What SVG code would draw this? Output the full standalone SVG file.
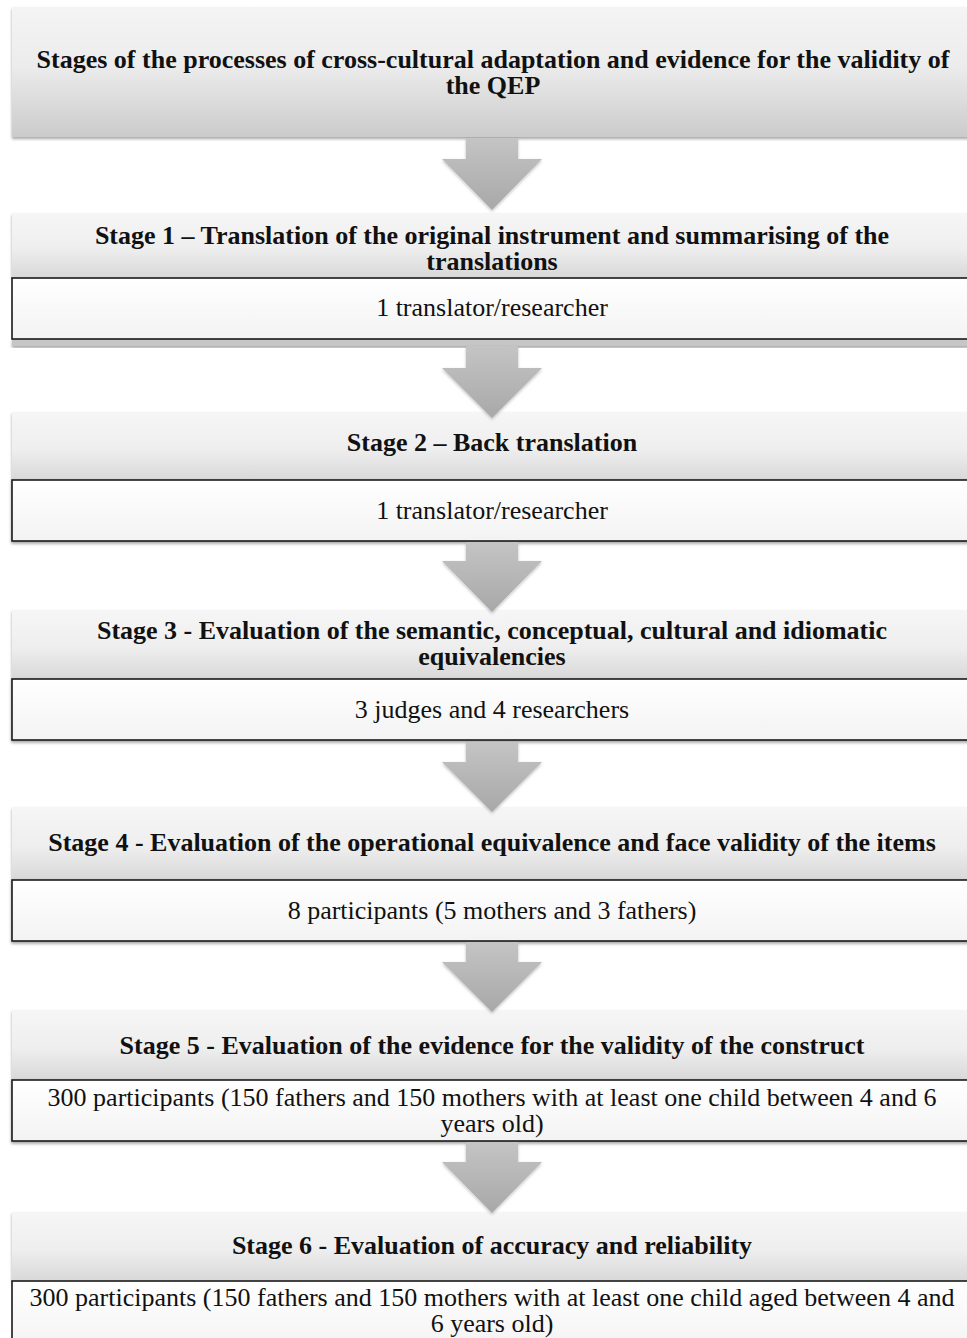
<svg xmlns="http://www.w3.org/2000/svg" width="967" height="1338" viewBox="0 0 967 1338">
<style>
.h{font-family:"Liberation Serif","Times New Roman",serif;font-weight:bold;font-size:26px;fill:#111;text-anchor:middle}
.b{font-family:"Liberation Serif","Times New Roman",serif;font-size:26px;fill:#111;text-anchor:middle}
.hdr{fill:url(#gh)}
.body{fill:url(#gb);stroke:#1a1a1a;stroke-width:1.6}
.arr{fill:url(#ga);filter:url(#sa)}
</style>
<defs>
<linearGradient id="gt" x1="0" y1="0" x2="0" y2="1">
<stop offset="0" stop-color="#f4f4f4"/><stop offset="0.45" stop-color="#ececec"/><stop offset="1" stop-color="#cbcbcb"/>
</linearGradient>
<linearGradient id="gh" x1="0" y1="0" x2="0" y2="1">
<stop offset="0" stop-color="#f6f6f6"/><stop offset="0.55" stop-color="#eeeeee"/><stop offset="1" stop-color="#d8d8d8"/>
</linearGradient>
<linearGradient id="gb" x1="0" y1="0" x2="0" y2="1">
<stop offset="0" stop-color="#ffffff"/><stop offset="1" stop-color="#f3f3f3"/>
</linearGradient>
<linearGradient id="ga" x1="0" y1="0" x2="0" y2="1">
<stop offset="0" stop-color="#c4c4c4"/><stop offset="1" stop-color="#a8a8a8"/>
</linearGradient>
<filter id="sh" x="-5%" y="-10%" width="110%" height="130%">
<feDropShadow dx="0" dy="2" stdDeviation="1.6" flood-color="#000" flood-opacity="0.35"/>
</filter>
<filter id="sa" x="-20%" y="-20%" width="140%" height="150%">
<feDropShadow dx="0" dy="1.5" stdDeviation="1.5" flood-color="#000" flood-opacity="0.25"/>
</filter>
</defs>
<rect width="967" height="1338" fill="#ffffff"/>

<g id="title">
<rect x="12" y="7" width="970" height="130" fill="url(#gt)" filter="url(#sh)"/>
<text class="h" x="493" y="68">Stages of the processes of cross-cultural adaptation and evidence for the validity of</text>
<text class="h" x="493" y="94">the QEP</text>
</g>

<g id="stage1">
<rect x="12" y="213" width="970" height="65" class="hdr" filter="url(#sh)"/>
<rect x="12" y="339" width="970" height="7" fill="#c6c6c6" filter="url(#sh)"/>
<rect x="12" y="278" width="970" height="61" class="body"/>
<text class="h" x="492" y="244">Stage 1 – Translation of the original instrument and summarising of the</text>
<text class="h" x="492" y="270">translations</text>
<text class="b" x="492" y="316">1 translator/researcher</text>
</g>

<g id="stage2">
<rect x="12" y="412" width="970" height="68" class="hdr" filter="url(#sh)"/>
<rect x="12" y="480" width="970" height="61" class="body" filter="url(#sh)"/>
<text class="h" x="492" y="451">Stage 2 – Back translation</text>
<text class="b" x="492" y="519">1 translator/researcher</text>
</g>

<g id="stage3">
<rect x="12" y="610" width="970" height="69" class="hdr" filter="url(#sh)"/>
<rect x="12" y="679" width="970" height="61" class="body" filter="url(#sh)"/>
<text class="h" x="492" y="639">Stage 3 - Evaluation of the semantic, conceptual, cultural and idiomatic</text>
<text class="h" x="492" y="665">equivalencies</text>
<text class="b" x="492" y="718">3 judges and 4 researchers</text>
</g>

<g id="stage4">
<rect x="12" y="807" width="970" height="73" class="hdr" filter="url(#sh)"/>
<rect x="12" y="880" width="970" height="61" class="body" filter="url(#sh)"/>
<text class="h" x="492" y="851">Stage 4  - Evaluation of the operational equivalence and face validity of the items</text>
<text class="b" x="492" y="919">8 participants (5 mothers and 3 fathers)</text>
</g>

<g id="stage5">
<rect x="12" y="1010" width="970" height="70" class="hdr" filter="url(#sh)"/>
<rect x="12" y="1080" width="970" height="61" class="body" filter="url(#sh)"/>
<text class="h" x="492" y="1054">Stage 5  - Evaluation of the evidence for the validity of the construct</text>
<text class="b" x="492" y="1106">300 participants (150 fathers and 150 mothers with at least one child between 4 and 6</text>
<text class="b" x="492" y="1132">years old)</text>
</g>

<g id="stage6">
<rect x="12" y="1212" width="970" height="69" class="hdr" filter="url(#sh)"/>
<rect x="12" y="1281" width="970" height="70" class="body"/>
<text class="h" x="492" y="1254">Stage 6 - Evaluation of accuracy and reliability</text>
<text class="b" x="492" y="1306">300 participants (150 fathers and 150 mothers with at least one child aged between 4 and</text>
<text class="b" x="492" y="1332">6 years old)</text>
</g>

<g id="connectors">
<path class="arr" d="M466,138 L518,138 L518,159 L542,159 L492,210 L442,159 L466,159 Z"/>
<path class="arr" d="M466,346 L518,346 L518,368 L542,368 L492,418 L442,368 L466,368 Z"/>
<path class="arr" d="M466,542 L518,542 L518,561 L542,561 L492,612 L442,561 L466,561 Z"/>
<path class="arr" d="M466,742 L518,742 L518,762 L542,762 L492,812 L442,762 L466,762 Z"/>
<path class="arr" d="M466,942 L518,942 L518,962 L542,962 L492,1012 L442,962 L466,962 Z"/>
<path class="arr" d="M466,1142 L518,1142 L518,1162 L542,1162 L492,1213 L442,1162 L466,1162 Z"/>
</g>
</svg>
